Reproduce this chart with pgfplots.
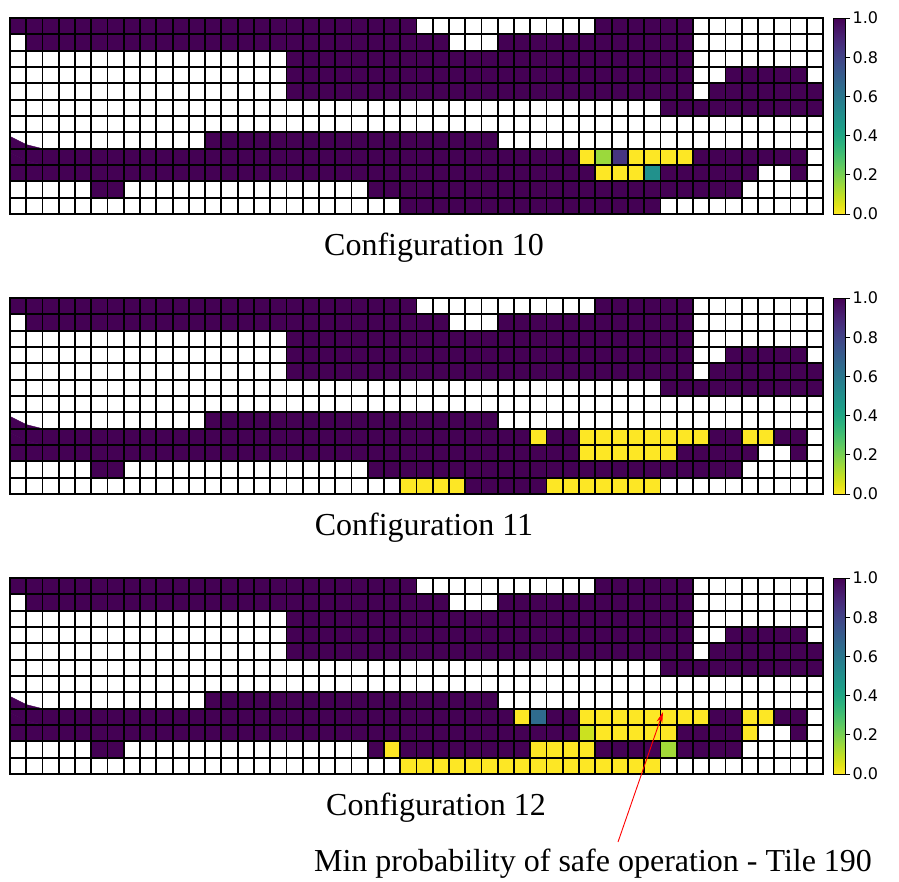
\documentclass[border=0pt]{standalone}
\usepackage{pgfplots}
\pgfplotsset{compat=1.18}
\usetikzlibrary{arrows.meta}
\usepackage{fontspec}
\setmainfont{Liberation Serif}
\newfontfamily\dejavu{DejaVu Sans}
\pgfplotsset{
  % reversed viridis (0 = yellow, 1 = purple)
  colormap={vr}{rgb255=(253,231,37) rgb255=(223,227,24) rgb255=(189,223,38) rgb255=(155,217,60) rgb255=(122,209,81) rgb255=(94,201,98) rgb255=(68,191,112) rgb255=(47,180,124) rgb255=(34,168,132) rgb255=(30,156,137) rgb255=(33,145,140) rgb255=(37,132,142) rgb255=(42,120,142) rgb255=(47,108,142) rgb255=(53,95,141) rgb255=(59,82,139) rgb255=(65,68,135) rgb255=(70,52,128) rgb255=(72,36,117) rgb255=(71,19,101) rgb255=(68,1,84)},
  % same map on [0,1]; value 2 (= no data) is white
  colormap={vrw}{rgb255(0cm)=(253,231,37) rgb255(1cm)=(223,227,24) rgb255(2cm)=(189,223,38) rgb255(3cm)=(155,217,60) rgb255(4cm)=(122,209,81) rgb255(5cm)=(94,201,98) rgb255(6cm)=(68,191,112) rgb255(7cm)=(47,180,124) rgb255(8cm)=(34,168,132) rgb255(9cm)=(30,156,137) rgb255(10cm)=(33,145,140) rgb255(11cm)=(37,132,142) rgb255(12cm)=(42,120,142) rgb255(13cm)=(47,108,142) rgb255(14cm)=(53,95,141) rgb255(15cm)=(59,82,139) rgb255(16cm)=(65,68,135) rgb255(17cm)=(70,52,128) rgb255(18cm)=(72,36,117) rgb255(19cm)=(71,19,101) rgb255(20cm)=(68,1,84) rgb255(21cm)=(255,255,255) rgb255(40cm)=(255,255,255)},
  heat/.style={
    scale only axis, width=813pt, height=196pt, anchor=north west,
    xmin=-0.5, xmax=49.5, ymin=-0.5, ymax=11.5, y dir=reverse,
    xtick={-0.5,0.5,...,49.5}, ytick={-0.5,0.5,...,11.5},
    xticklabels={}, yticklabels={}, major tick length=0pt,
    grid=major, major grid style={black, line width=1.8pt},
    axis line style={black, line width=1.2pt},
    axis on top, colormap name=vrw, point meta min=0, point meta max=2,
  },
  cbar/.style={
    scale only axis, width=813pt, height=196pt, anchor=north west,
    hide axis, xmin=0, xmax=1, ymin=0, ymax=1,
    colormap name=vr, point meta min=0, point meta max=1,
    colorbar,
    colorbar style={
      at={(parent axis.north east)}, anchor=north west, xshift=1.5pt,
      scale only axis, width=12pt, height=196pt,
      xtick=\empty,
      ytick={0,0.2,0.4,0.6,0.8,1},
      ytick pos=right, yticklabel pos=right,
      tick align=outside, major tick length=5pt,
      major tick style={black, line width=0.8pt},
      axis line style={black, line width=0.8pt},
      yticklabel style={font=\dejavu\fontsize{16}{19}\selectfont, xshift=-1pt,
        /pgf/number format/fixed, /pgf/number format/fixed zerofill,
        /pgf/number format/precision=1, /pgf/number format/assume math mode=true},
    },
  },
  cells/.style={matrix plot*, mesh/cols=50, mesh/rows=12, point meta=explicit},
  dummy/.style={matrix plot*, mesh/cols=2, mesh/rows=2, point meta=explicit, opacity=0},
}
\begin{document}
\begin{tikzpicture}
\path[use as bounding box] (0pt,0pt) rectangle (899pt,-882pt);

% ---------------- Configuration 10   (2 = empty tile)
\begin{axis}[heat, at={(10pt,-18pt)}]
\addplot[cells] table[header=false, row sep=\\, x expr={mod(\coordindex,50)}, y expr={floor(\coordindex/50)}, meta index=0] {
1\\1\\1\\1\\1\\1\\1\\1\\1\\1\\ 1\\1\\1\\1\\1\\1\\1\\1\\1\\1\\ 1\\1\\1\\1\\1\\2\\2\\2\\2\\2\\ 2\\2\\2\\2\\2\\2\\1\\1\\1\\1\\ 1\\1\\2\\2\\2\\2\\2\\2\\2\\2\\
2\\1\\1\\1\\1\\1\\1\\1\\1\\1\\ 1\\1\\1\\1\\1\\1\\1\\1\\1\\1\\ 1\\1\\1\\1\\1\\1\\1\\2\\2\\2\\ 1\\1\\1\\1\\1\\1\\1\\1\\1\\1\\ 1\\1\\2\\2\\2\\2\\2\\2\\2\\2\\
2\\2\\2\\2\\2\\2\\2\\2\\2\\2\\ 2\\2\\2\\2\\2\\2\\2\\1\\1\\1\\ 1\\1\\1\\1\\1\\1\\1\\1\\1\\1\\ 1\\1\\1\\1\\1\\1\\1\\1\\1\\1\\ 1\\1\\2\\2\\2\\2\\2\\2\\2\\2\\
2\\2\\2\\2\\2\\2\\2\\2\\2\\2\\ 2\\2\\2\\2\\2\\2\\2\\1\\1\\1\\ 1\\1\\1\\1\\1\\1\\1\\1\\1\\1\\ 1\\1\\1\\1\\1\\1\\1\\1\\1\\1\\ 1\\1\\2\\2\\1\\1\\1\\1\\1\\2\\
2\\2\\2\\2\\2\\2\\2\\2\\2\\2\\ 2\\2\\2\\2\\2\\2\\2\\1\\1\\1\\ 1\\1\\1\\1\\1\\1\\1\\1\\1\\1\\ 1\\1\\1\\1\\1\\1\\1\\1\\1\\1\\ 1\\1\\2\\1\\1\\1\\1\\1\\1\\1\\
2\\2\\2\\2\\2\\2\\2\\2\\2\\2\\ 2\\2\\2\\2\\2\\2\\2\\2\\2\\2\\ 2\\2\\2\\2\\2\\2\\2\\2\\2\\2\\ 2\\2\\2\\2\\2\\2\\2\\2\\2\\2\\ 1\\1\\1\\1\\1\\1\\1\\1\\1\\1\\
2\\2\\2\\2\\2\\2\\2\\2\\2\\2\\ 2\\2\\2\\2\\2\\2\\2\\2\\2\\2\\ 2\\2\\2\\2\\2\\2\\2\\2\\2\\2\\ 2\\2\\2\\2\\2\\2\\2\\2\\2\\2\\ 2\\2\\2\\2\\2\\2\\2\\2\\2\\2\\
2\\2\\2\\2\\2\\2\\2\\2\\2\\2\\ 2\\2\\1\\1\\1\\1\\1\\1\\1\\1\\ 1\\1\\1\\1\\1\\1\\1\\1\\1\\1\\ 2\\2\\2\\2\\2\\2\\2\\2\\2\\2\\ 2\\2\\2\\2\\2\\2\\2\\2\\2\\2\\
1\\1\\1\\1\\1\\1\\1\\1\\1\\1\\ 1\\1\\1\\1\\1\\1\\1\\1\\1\\1\\ 1\\1\\1\\1\\1\\1\\1\\1\\1\\1\\ 1\\1\\1\\1\\1\\0\\0.15\\0.85\\0\\0\\ 0\\0\\1\\1\\1\\1\\1\\1\\1\\2\\
1\\1\\1\\1\\1\\1\\1\\1\\1\\1\\ 1\\1\\1\\1\\1\\1\\1\\1\\1\\1\\ 1\\1\\1\\1\\1\\1\\1\\1\\1\\1\\ 1\\1\\1\\1\\1\\1\\0\\0\\0\\0.5\\ 1\\1\\1\\1\\1\\1\\2\\2\\1\\2\\
2\\2\\2\\2\\2\\1\\1\\2\\2\\2\\ 2\\2\\2\\2\\2\\2\\2\\2\\2\\2\\ 2\\2\\1\\1\\1\\1\\1\\1\\1\\1\\ 1\\1\\1\\1\\1\\1\\1\\1\\1\\1\\ 1\\1\\1\\1\\1\\2\\2\\2\\2\\2\\
2\\2\\2\\2\\2\\2\\2\\2\\2\\2\\ 2\\2\\2\\2\\2\\2\\2\\2\\2\\2\\ 2\\2\\2\\2\\1\\1\\1\\1\\1\\1\\ 1\\1\\1\\1\\1\\1\\1\\1\\1\\1\\ 2\\2\\2\\2\\2\\2\\2\\2\\2\\2\\
};
\end{axis}
\begin{axis}[cbar, at={(10pt,-18pt)}]
\addplot[dummy] coordinates {(3,3) [0] (4,3) [1] (3,4) [0] (4,4) [1]};
\end{axis}

% ---------------- Configuration 11
\begin{axis}[heat, at={(10pt,-298pt)}]
\addplot[cells] table[header=false, row sep=\\, x expr={mod(\coordindex,50)}, y expr={floor(\coordindex/50)}, meta index=0] {
1\\1\\1\\1\\1\\1\\1\\1\\1\\1\\ 1\\1\\1\\1\\1\\1\\1\\1\\1\\1\\ 1\\1\\1\\1\\1\\2\\2\\2\\2\\2\\ 2\\2\\2\\2\\2\\2\\1\\1\\1\\1\\ 1\\1\\2\\2\\2\\2\\2\\2\\2\\2\\
2\\1\\1\\1\\1\\1\\1\\1\\1\\1\\ 1\\1\\1\\1\\1\\1\\1\\1\\1\\1\\ 1\\1\\1\\1\\1\\1\\1\\2\\2\\2\\ 1\\1\\1\\1\\1\\1\\1\\1\\1\\1\\ 1\\1\\2\\2\\2\\2\\2\\2\\2\\2\\
2\\2\\2\\2\\2\\2\\2\\2\\2\\2\\ 2\\2\\2\\2\\2\\2\\2\\1\\1\\1\\ 1\\1\\1\\1\\1\\1\\1\\1\\1\\1\\ 1\\1\\1\\1\\1\\1\\1\\1\\1\\1\\ 1\\1\\2\\2\\2\\2\\2\\2\\2\\2\\
2\\2\\2\\2\\2\\2\\2\\2\\2\\2\\ 2\\2\\2\\2\\2\\2\\2\\1\\1\\1\\ 1\\1\\1\\1\\1\\1\\1\\1\\1\\1\\ 1\\1\\1\\1\\1\\1\\1\\1\\1\\1\\ 1\\1\\2\\2\\1\\1\\1\\1\\1\\2\\
2\\2\\2\\2\\2\\2\\2\\2\\2\\2\\ 2\\2\\2\\2\\2\\2\\2\\1\\1\\1\\ 1\\1\\1\\1\\1\\1\\1\\1\\1\\1\\ 1\\1\\1\\1\\1\\1\\1\\1\\1\\1\\ 1\\1\\2\\1\\1\\1\\1\\1\\1\\1\\
2\\2\\2\\2\\2\\2\\2\\2\\2\\2\\ 2\\2\\2\\2\\2\\2\\2\\2\\2\\2\\ 2\\2\\2\\2\\2\\2\\2\\2\\2\\2\\ 2\\2\\2\\2\\2\\2\\2\\2\\2\\2\\ 1\\1\\1\\1\\1\\1\\1\\1\\1\\1\\
2\\2\\2\\2\\2\\2\\2\\2\\2\\2\\ 2\\2\\2\\2\\2\\2\\2\\2\\2\\2\\ 2\\2\\2\\2\\2\\2\\2\\2\\2\\2\\ 2\\2\\2\\2\\2\\2\\2\\2\\2\\2\\ 2\\2\\2\\2\\2\\2\\2\\2\\2\\2\\
2\\2\\2\\2\\2\\2\\2\\2\\2\\2\\ 2\\2\\1\\1\\1\\1\\1\\1\\1\\1\\ 1\\1\\1\\1\\1\\1\\1\\1\\1\\1\\ 2\\2\\2\\2\\2\\2\\2\\2\\2\\2\\ 2\\2\\2\\2\\2\\2\\2\\2\\2\\2\\
1\\1\\1\\1\\1\\1\\1\\1\\1\\1\\ 1\\1\\1\\1\\1\\1\\1\\1\\1\\1\\ 1\\1\\1\\1\\1\\1\\1\\1\\1\\1\\ 1\\1\\0\\1\\1\\0\\0\\0\\0\\0\\ 0\\0\\0\\1\\1\\0\\0\\1\\1\\2\\
1\\1\\1\\1\\1\\1\\1\\1\\1\\1\\ 1\\1\\1\\1\\1\\1\\1\\1\\1\\1\\ 1\\1\\1\\1\\1\\1\\1\\1\\1\\1\\ 1\\1\\1\\1\\1\\0\\0\\0\\0\\0\\ 0\\1\\1\\1\\1\\1\\2\\2\\1\\2\\
2\\2\\2\\2\\2\\1\\1\\2\\2\\2\\ 2\\2\\2\\2\\2\\2\\2\\2\\2\\2\\ 2\\2\\1\\1\\1\\1\\1\\1\\1\\1\\ 1\\1\\1\\1\\1\\1\\1\\1\\1\\1\\ 1\\1\\1\\1\\1\\2\\2\\2\\2\\2\\
2\\2\\2\\2\\2\\2\\2\\2\\2\\2\\ 2\\2\\2\\2\\2\\2\\2\\2\\2\\2\\ 2\\2\\2\\2\\0\\0\\0\\0\\1\\1\\ 1\\1\\1\\0\\0\\0\\0\\0\\0\\0\\ 2\\2\\2\\2\\2\\2\\2\\2\\2\\2\\
};
\end{axis}
\begin{axis}[cbar, at={(10pt,-298pt)}]
\addplot[dummy] coordinates {(3,3) [0] (4,3) [1] (3,4) [0] (4,4) [1]};
\end{axis}

% ---------------- Configuration 12
\begin{axis}[heat, at={(10pt,-578pt)}]
\addplot[cells] table[header=false, row sep=\\, x expr={mod(\coordindex,50)}, y expr={floor(\coordindex/50)}, meta index=0] {
1\\1\\1\\1\\1\\1\\1\\1\\1\\1\\ 1\\1\\1\\1\\1\\1\\1\\1\\1\\1\\ 1\\1\\1\\1\\1\\2\\2\\2\\2\\2\\ 2\\2\\2\\2\\2\\2\\1\\1\\1\\1\\ 1\\1\\2\\2\\2\\2\\2\\2\\2\\2\\
2\\1\\1\\1\\1\\1\\1\\1\\1\\1\\ 1\\1\\1\\1\\1\\1\\1\\1\\1\\1\\ 1\\1\\1\\1\\1\\1\\1\\2\\2\\2\\ 1\\1\\1\\1\\1\\1\\1\\1\\1\\1\\ 1\\1\\2\\2\\2\\2\\2\\2\\2\\2\\
2\\2\\2\\2\\2\\2\\2\\2\\2\\2\\ 2\\2\\2\\2\\2\\2\\2\\1\\1\\1\\ 1\\1\\1\\1\\1\\1\\1\\1\\1\\1\\ 1\\1\\1\\1\\1\\1\\1\\1\\1\\1\\ 1\\1\\2\\2\\2\\2\\2\\2\\2\\2\\
2\\2\\2\\2\\2\\2\\2\\2\\2\\2\\ 2\\2\\2\\2\\2\\2\\2\\1\\1\\1\\ 1\\1\\1\\1\\1\\1\\1\\1\\1\\1\\ 1\\1\\1\\1\\1\\1\\1\\1\\1\\1\\ 1\\1\\2\\2\\1\\1\\1\\1\\1\\2\\
2\\2\\2\\2\\2\\2\\2\\2\\2\\2\\ 2\\2\\2\\2\\2\\2\\2\\1\\1\\1\\ 1\\1\\1\\1\\1\\1\\1\\1\\1\\1\\ 1\\1\\1\\1\\1\\1\\1\\1\\1\\1\\ 1\\1\\2\\1\\1\\1\\1\\1\\1\\1\\
2\\2\\2\\2\\2\\2\\2\\2\\2\\2\\ 2\\2\\2\\2\\2\\2\\2\\2\\2\\2\\ 2\\2\\2\\2\\2\\2\\2\\2\\2\\2\\ 2\\2\\2\\2\\2\\2\\2\\2\\2\\2\\ 1\\1\\1\\1\\1\\1\\1\\1\\1\\1\\
2\\2\\2\\2\\2\\2\\2\\2\\2\\2\\ 2\\2\\2\\2\\2\\2\\2\\2\\2\\2\\ 2\\2\\2\\2\\2\\2\\2\\2\\2\\2\\ 2\\2\\2\\2\\2\\2\\2\\2\\2\\2\\ 2\\2\\2\\2\\2\\2\\2\\2\\2\\2\\
2\\2\\2\\2\\2\\2\\2\\2\\2\\2\\ 2\\2\\1\\1\\1\\1\\1\\1\\1\\1\\ 1\\1\\1\\1\\1\\1\\1\\1\\1\\1\\ 2\\2\\2\\2\\2\\2\\2\\2\\2\\2\\ 2\\2\\2\\2\\2\\2\\2\\2\\2\\2\\
1\\1\\1\\1\\1\\1\\1\\1\\1\\1\\ 1\\1\\1\\1\\1\\1\\1\\1\\1\\1\\ 1\\1\\1\\1\\1\\1\\1\\1\\1\\1\\ 1\\0\\0.65\\1\\1\\0\\0\\0\\0\\0\\ 0\\0\\0\\1\\1\\0\\0\\1\\1\\2\\
1\\1\\1\\1\\1\\1\\1\\1\\1\\1\\ 1\\1\\1\\1\\1\\1\\1\\1\\1\\1\\ 1\\1\\1\\1\\1\\1\\1\\1\\1\\1\\ 1\\1\\1\\1\\1\\0.08\\0\\0\\0\\0\\ 0\\1\\1\\1\\1\\0\\2\\2\\1\\2\\
2\\2\\2\\2\\2\\1\\1\\2\\2\\2\\ 2\\2\\2\\2\\2\\2\\2\\2\\2\\2\\ 2\\2\\1\\0\\1\\1\\1\\1\\1\\1\\ 1\\1\\0\\0\\0\\0\\1\\1\\1\\1\\ 0.14\\1\\1\\1\\1\\2\\2\\2\\2\\2\\
2\\2\\2\\2\\2\\2\\2\\2\\2\\2\\ 2\\2\\2\\2\\2\\2\\2\\2\\2\\2\\ 2\\2\\2\\2\\0\\0\\0\\0\\0\\0\\ 0\\0\\0\\0\\0\\0\\0\\0\\0\\0\\ 2\\2\\2\\2\\2\\2\\2\\2\\2\\2\\
};
\end{axis}
\begin{axis}[cbar, at={(10pt,-578pt)}]
\addplot[dummy] coordinates {(3,3) [0] (4,3) [1] (3,4) [0] (4,4) [1]};
\end{axis}

\node[anchor=base, font=\fontsize{32}{38}\selectfont] at (434pt,-256pt) {Configuration 10};
\node[anchor=base, font=\fontsize{32}{38}\selectfont] at (424pt,-535pt) {Configuration 11};
\node[anchor=base, font=\fontsize{32}{38}\selectfont] at (436pt,-815pt) {Configuration 12};
\node[anchor=base, font=\fontsize{32}{38}\selectfont] at (593pt,-871pt) {Min probability of safe operation - Tile 190};
\draw[red, line width=0.9pt, -{Stealth[length=11pt,width=6pt]}] (618pt,-842pt) -- (663pt,-712pt);
\end{tikzpicture}
\end{document}
